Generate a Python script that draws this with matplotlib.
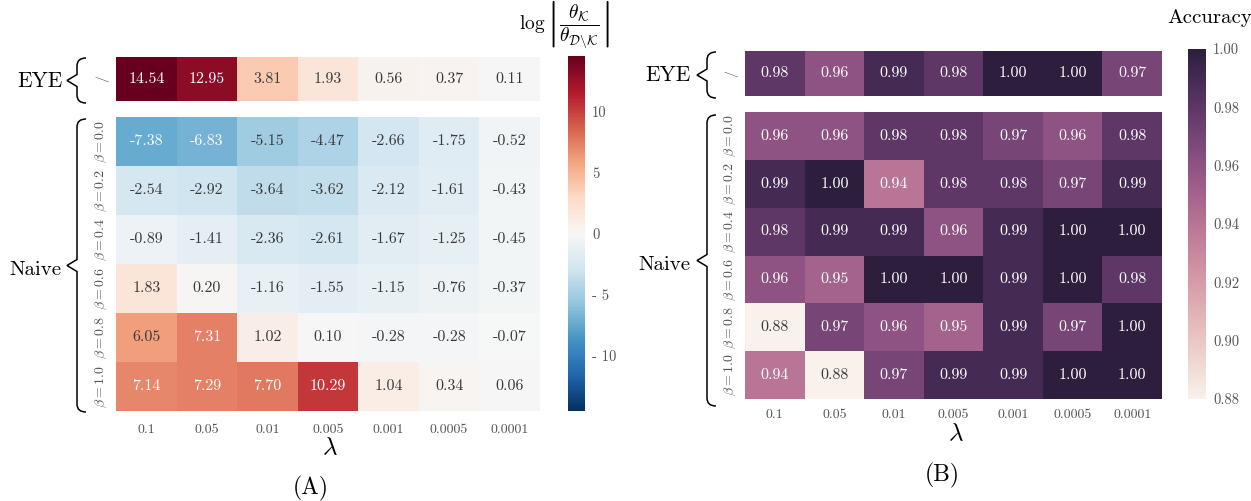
import numpy as np
import matplotlib.pyplot as plt
import seaborn as sns
from matplotlib.path import Path
from matplotlib.patches import PathPatch

plt.rcParams['font.family'] = 'cmr10'
plt.rcParams['mathtext.fontset'] = 'cm'
plt.rcParams['axes.unicode_minus'] = False

lambdas = ['0.1', '0.05', '0.01', '0.005', '0.001', '0.0005', '0.0001']
betas = ['0.0', '0.2', '0.4', '0.6', '0.8', '1.0']

ratio_eye = [14.54, 12.95, 3.81, 1.93, 0.56, 0.37, 0.11]
ratio_naive = [
    [-7.38, -6.83, -5.15, -4.47, -2.66, -1.75, -0.52],
    [-2.54, -2.92, -3.64, -3.62, -2.12, -1.61, -0.43],
    [-0.89, -1.41, -2.36, -2.61, -1.67, -1.25, -0.45],
    [1.83, 0.20, -1.16, -1.55, -1.15, -0.76, -0.37],
    [6.05, 7.31, 1.02, 0.10, -0.28, -0.28, -0.07],
    [7.14, 7.29, 7.70, 10.29, 1.04, 0.34, 0.06],
]

acc_eye = [0.98, 0.96, 0.99, 0.98, 1.00, 1.00, 0.97]
acc_naive = [
    [0.96, 0.96, 0.98, 0.98, 0.97, 0.96, 0.98],
    [0.99, 1.00, 0.94, 0.98, 0.98, 0.97, 0.99],
    [0.98, 0.99, 0.99, 0.96, 0.99, 1.00, 1.00],
    [0.96, 0.95, 1.00, 1.00, 0.99, 1.00, 0.98],
    [0.88, 0.97, 0.96, 0.95, 0.99, 0.97, 1.00],
    [0.94, 0.88, 0.97, 0.99, 0.99, 1.00, 1.00],
]

W, H = 1251, 501
fig = plt.figure(figsize=(W / 100, H / 100), dpi=100)
GREY = '#555555'


def px_axes(x0, y0, x1, y1):
    return fig.add_axes([x0 / W, 1 - y1 / H, (x1 - x0) / W, (y1 - y0) / H])


def brace(x, y0, y1, w=9, tip=10, r=8):
    ym = (y0 + y1) / 2
    pts = [(x + w, y0), (x, y0), (x, y0 + r), (x, ym - 6), (x - tip, ym),
           (x, ym + 6), (x, y1 - r), (x, y1), (x + w, y1)]
    codes = [Path.MOVETO, Path.CURVE3, Path.CURVE3, Path.LINETO, Path.LINETO,
             Path.LINETO, Path.LINETO, Path.CURVE3, Path.CURVE3]
    verts = [(px / W, 1 - py / H) for px, py in pts]
    fig.add_artist(PathPatch(Path(verts, codes), transform=fig.transFigure,
                             fill=False, lw=1.1, ec='black'))


def ftext(x, y, s, **kw):
    fig.text(x / W, 1 - y / H, s, ha='center', va='center', **kw)


def panel(eye, naive, x0, x1, eye_y, naive_y, cbar_box, cmap, vmin, vmax,
          cticks, clabels, tick_pad):
    ax_e = px_axes(x0, eye_y[0], x1, eye_y[1])
    ax_n = px_axes(x0, naive_y[0], x1, naive_y[1])
    cax = px_axes(*cbar_box)
    kw = dict(cmap=cmap, vmin=vmin, vmax=vmax, annot=True, fmt='.2f',
              annot_kws={'size': 11.5})
    sns.heatmap(np.array([eye]), ax=ax_e, cbar=False, xticklabels=False,
                yticklabels=['/'], **kw)
    sns.heatmap(np.array(naive), ax=ax_n, cbar_ax=cax, xticklabels=lambdas,
                yticklabels=[rf'$\beta = {b}$' for b in betas], **kw)
    for ax in (ax_e, ax_n):
        ax.tick_params(length=0, labelcolor=GREY)
        ax.tick_params(axis='y', labelsize=10, pad=5)
        ax.tick_params(axis='x', labelsize=10)
        for lab in ax.get_yticklabels():
            lab.set_rotation(90)
            lab.set_va('center')
        # soften the dark annotation text a little
        for t in ax.texts:
            if np.mean(plt.matplotlib.colors.to_rgb(t.get_color())) < 0.5:
                t.set_color('#3a3a3a')
    ax_n.tick_params(axis='x', pad=tick_pad)
    for lab in ax_n.get_xticklabels():
        lab.set_rotation(0)
    cax.set_yticks(cticks)
    cax.set_yticklabels(clabels)
    cax.tick_params(length=0, labelsize=10.5, labelcolor=GREY, pad=5)


# (A) parameter ratio
panel(ratio_eye, ratio_naive, 116, 540, (57, 101), (117, 411),
      (568, 56, 585, 411), 'RdBu_r', -14.54, 14.54,
      [-10, -5, 0, 5, 10], ['- 10', '- 5', '0', '5', '10'], 9)
brace(77, 58, 103)
brace(77, 119, 412)
ftext(40, 81, 'EYE', fontsize=15.5)
ftext(35, 270, 'Naive', fontsize=15)
ftext(564, 25, r'$\log\left|\dfrac{\theta_{\mathcal{K}}}{\theta_{\mathcal{D}\backslash\mathcal{K}}}\right|$',
      fontsize=14)
ftext(330, 448, r'$\lambda$', fontsize=18)
ftext(311, 488, '(A)', fontsize=17)

# (B) accuracy
acc_cmap = sns.cubehelix_palette(light=0.95, dark=0.15, as_cmap=True)
panel(acc_eye, acc_naive, 745, 1162, (51, 96), (112, 399),
      (1188, 49, 1206, 399), acc_cmap, 0.88, 1.00,
      [0.88, 0.90, 0.92, 0.94, 0.96, 0.98, 1.00],
      ['0.88', '0.90', '0.92', '0.94', '0.96', '0.98', '1.00'], 7)
brace(707, 52, 98)
brace(707, 115, 406)
ftext(668, 75, 'EYE', fontsize=15.5)
ftext(664, 265, 'Naive', fontsize=15)
ftext(1210, 18, 'Accuracy', fontsize=15)
ftext(956, 434, r'$\lambda$', fontsize=18)
ftext(942, 475, '(B)', fontsize=17)

plt.savefig('out.png', dpi=100)
